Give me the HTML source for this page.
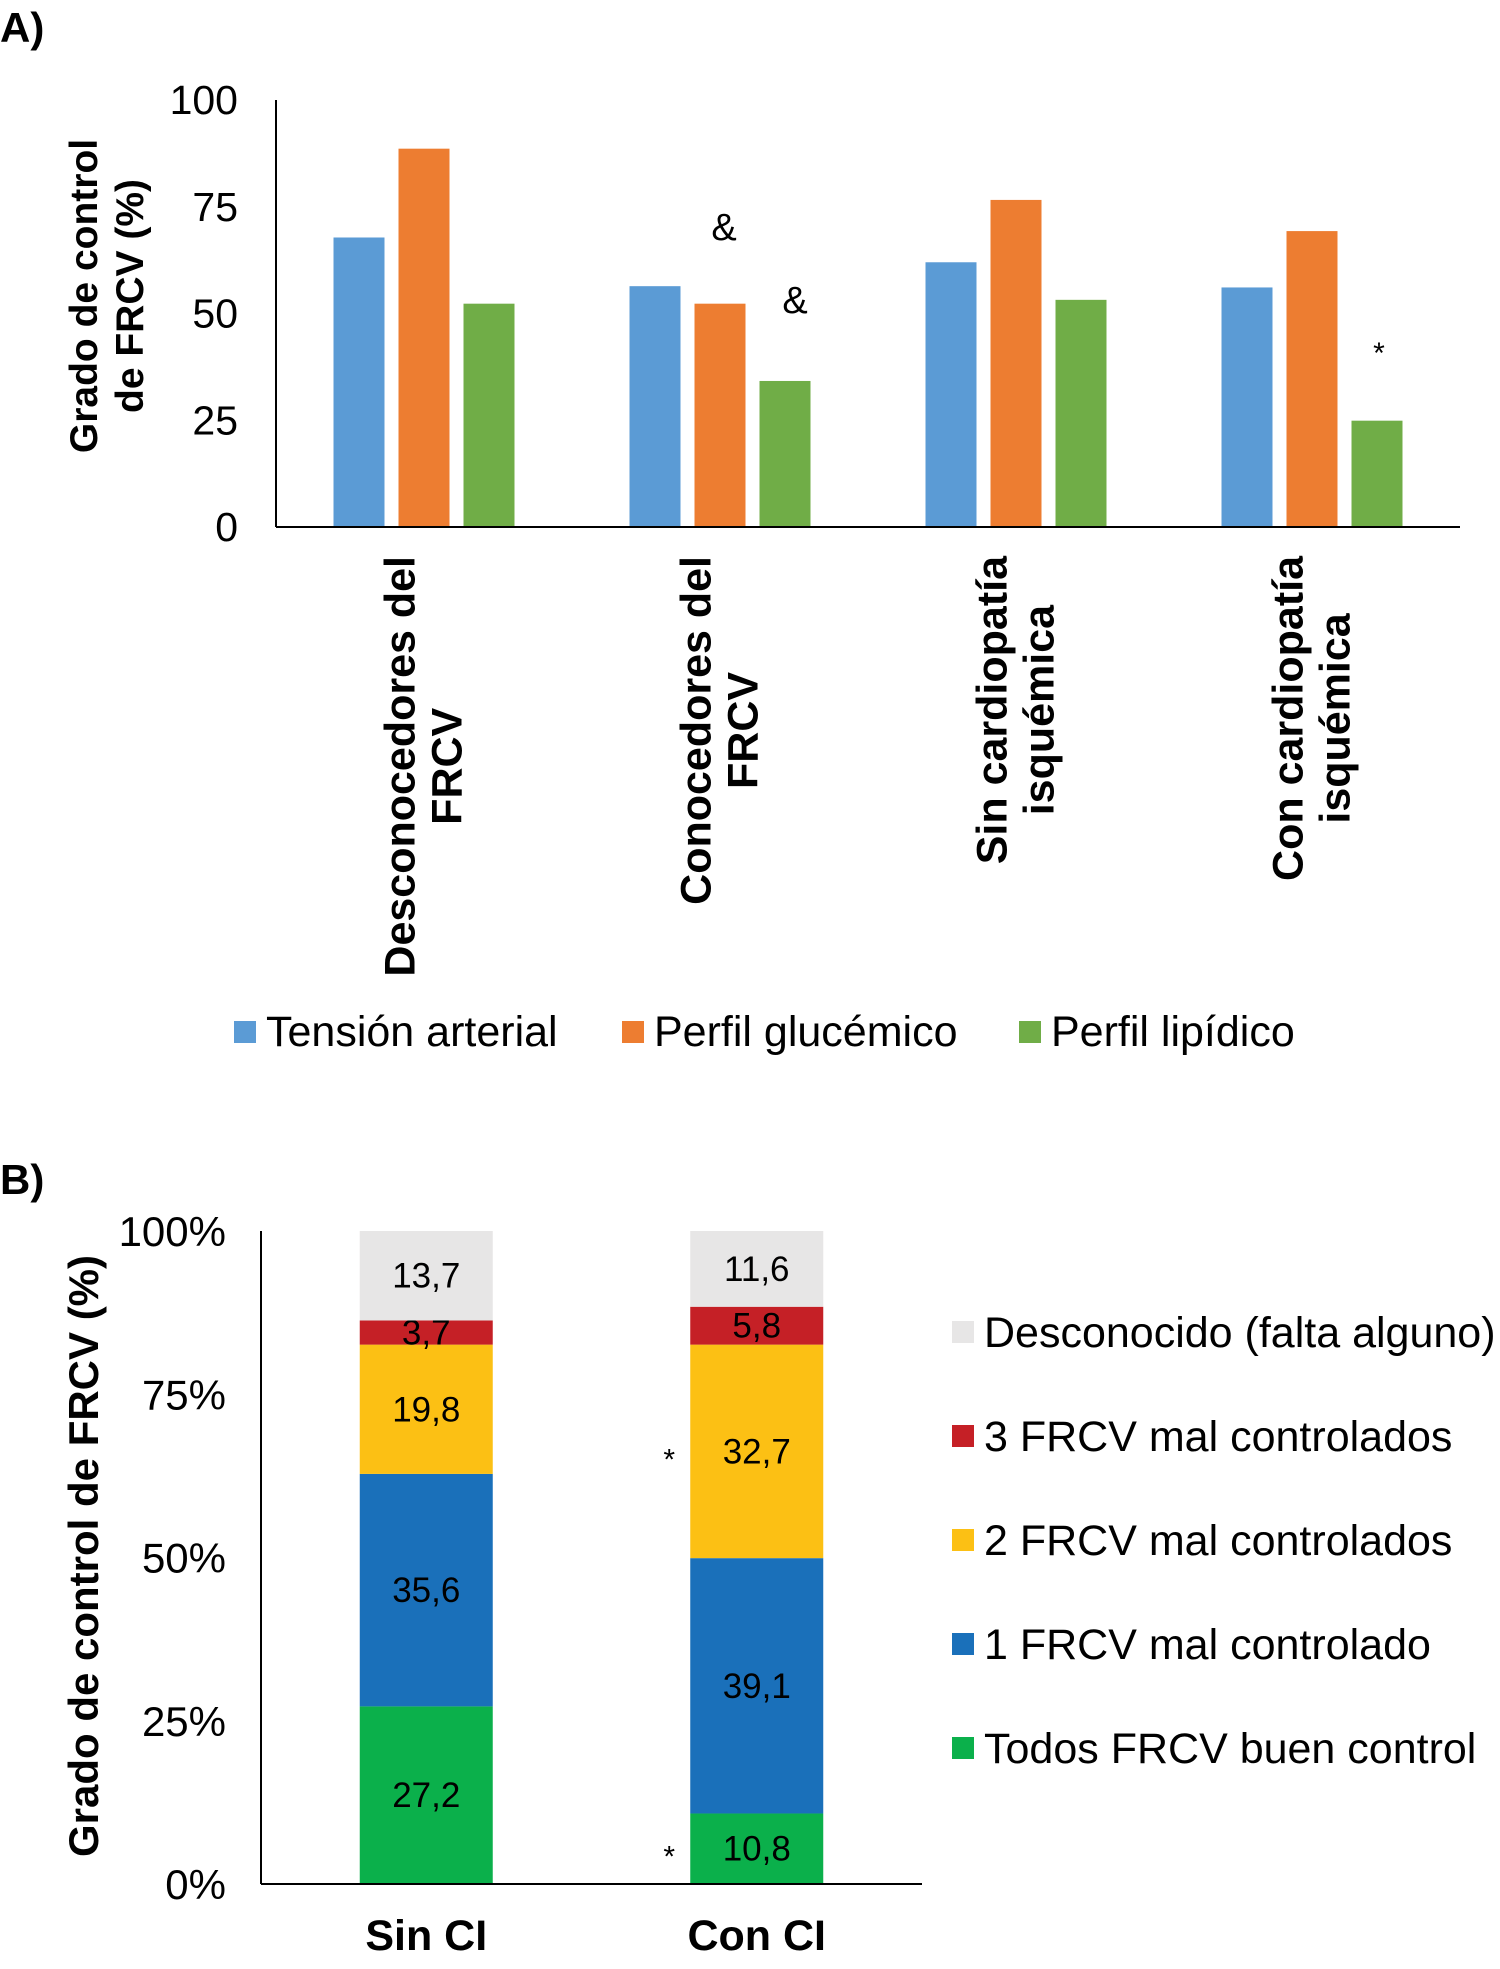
<!DOCTYPE html>
<html><head><meta charset="utf-8"><style>
html,body{margin:0;padding:0;background:#fff;}
svg{display:block;font-family:"Liberation Sans",Arial,sans-serif;}
</style></head><body>
<svg id="svg" width="1500" height="1969" viewBox="0 0 1500 1969" xmlns="http://www.w3.org/2000/svg">
<text x="0" y="42" font-size="42" font-weight="bold">A)</text>
<text x="0" y="1194" font-size="42" font-weight="bold">B)</text>
<g id="chartA"></g>
<g id="chartB"></g>
</svg>
<script>
// ---- Chart A data ----
const catsA = [["Desconocedores del","FRCV"],["Conocedores del","FRCV"],["Sin cardiopatía","isquémica"],["Con cardiopatía","isquémica"]];
const seriesNamesA = ["Tensión arterial","Perfil glucémico","Perfil lipídico"];
const tension = [67.8, 56.4, 62.0, 56.1];
const glucemico = [88.6, 52.3, 76.6, 69.3];
const lipidico = [52.3, 34.2, 53.2, 24.9];
const ticksA = [0,25,50,75,100];
// ---- Chart B data ----
const catsB = ["Sin CI","Con CI"];
const seriesNamesB = ["Todos FRCV buen control","1 FRCV mal controlado","2 FRCV mal controlados","3 FRCV mal controlados","Desconocido (falta alguno)"];
const buenControl = [27.2, 10.8];
const mal1 = [35.6, 39.1];
const mal2 = [19.8, 32.7];
const mal3 = [3.7, 5.8];
const desconocido = [13.7, 11.6];
const labelsB = [["27,2","10,8"],["35,6","39,1"],["19,8","32,7"],["3,7","5,8"],["13,7","11,6"]];
const ticksB = ["0%","25%","50%","75%","100%"];

const NS="http://www.w3.org/2000/svg";
function mk(parent,tag,attrs,text){const e=document.createElementNS(NS,tag);for(const k in attrs)e.setAttribute(k,attrs[k]);if(text!==undefined)e.textContent=text;parent.appendChild(e);return e;}

// ===== Chart A =====
(function(){
const g=document.getElementById('chartA');
const x0=276,x1=1460,y0=527,yTop=100;
const yA=v=>y0-(v/100)*(y0-yTop);
const band=(x1-x0)/catsA.length;
const colors=["#5B9BD5","#ED7D31","#70AD47"];
const data=[tension,glucemico,lipidico];
const bw=51,step=65;
data.forEach((s,si)=>{s.forEach((v,ci)=>{
  const cx=x0+band*(ci+0.5);
  const bx=cx-step-bw/2+si*step;
  const r=mk(g,'rect',{x:bx,y:yA(v),width:bw,height:y0-yA(v),fill:colors[si]});
  
  
});});
const ax=mk(g,'line',{x1:x0,y1:yTop,x2:x0,y2:y0,stroke:'#000','stroke-width':2});

const bx=mk(g,'line',{x1:x0,y1:y0,x2:x1,y2:y0,stroke:'#000','stroke-width':2});

ticksA.forEach(t=>{const e=mk(g,'text',{x:238,y:yA(t)+14,'font-size':41,'text-anchor':'end'},String(t));
  });
const yt=mk(g,'text',{transform:'translate(97,296) rotate(-90)','font-size':39,'font-weight':'bold','text-anchor':'middle'});

mk(yt,'tspan',{x:0,y:0},'Grado de control');
mk(yt,'tspan',{x:0,y:46},'de FRCV (%)');
catsA.forEach((lines,ci)=>{
  const cx=x0+band*(ci+0.5);
  const grp=mk(g,'g',{});
  
  const els=lines.map((l,li)=>mk(grp,'text',{'font-size':43,'font-weight':'bold','text-anchor':'middle'},l));
  let w=Math.max(...els.map(e=>e.getComputedTextLength()));
  const cy=556+w/2;
  els.forEach((e,li)=>{const lx=cx+14+(li-(els.length-1)/2)*47;e.setAttribute('transform','translate('+lx+','+cy+') rotate(-90)');});
});
const ann=[["&",724,240,38],["&",795,313,38],["*",1379,363,30]];
ann.forEach(a=>{const e=mk(g,'text',{x:a[1],y:a[2],'font-size':a[3],'text-anchor':'middle'},a[0]);
  });
const lx=[234,622,1019];
seriesNamesA.forEach((n,i)=>{
  const r=mk(g,'rect',{x:lx[i],y:1021,width:22,height:22,fill:colors[i]});
  
  const t=mk(g,'text',{x:lx[i]+32,y:1046,'font-size':43},n);
  
});
})();

// ===== Chart B =====
(function(){
const g=document.getElementById('chartB');
const x0=261,x1=922,y0=1884,yTop=1231;
const yB=v=>y0-(v/100)*(y0-yTop);
const band=(x1-x0)/catsB.length;
const colors=["#0BB04B","#1A70BA","#FCC014","#C52026","#E7E6E6"];
const data=[buenControl,mal1,mal2,mal3,desconocido];
const bw=133;
catsB.forEach((c,ci)=>{
  const cx=x0+band*(ci+0.5);
  let acc=0;
  data.forEach((s,si)=>{
    const v=s[ci];
    const yt=yB(acc+v),yb=yB(acc);
    const r=mk(g,'rect',{x:cx-bw/2,y:yt,width:bw,height:yb-yt,fill:colors[si]});
    
    
    const t=mk(g,'text',{x:cx,y:(yt+yb)/2+12,'font-size':35,'text-anchor':'middle'},labelsB[si][ci]);
    
    acc+=v;
  });
  const xl=mk(g,'text',{x:cx,y:1950,'font-size':43,'font-weight':'bold','text-anchor':'middle'},c);
  
});
const ax=mk(g,'line',{x1:x0,y1:yTop,x2:x0,y2:y0,stroke:'#000','stroke-width':2});

const bx=mk(g,'line',{x1:x0,y1:y0,x2:x1,y2:y0,stroke:'#000','stroke-width':2});

ticksB.forEach((t,i)=>{const e=mk(g,'text',{x:226,y:yB(i*25)+15,'font-size':42,'text-anchor':'end'},t);
  });
const yt=mk(g,'text',{transform:'translate(98,1556) rotate(-90)','font-size':42,'font-weight':'bold','text-anchor':'middle'},'Grado de control de FRCV (%)');

const cx2=x0+band*1.5;
[[mal2,buenControl.map((v,i)=>v+mal1[i]),],[buenControl,[0,0]]].forEach((p)=>{
  const base=p[1][1], v=p[0][1];
  const e=mk(g,'text',{x:cx2-bw/2-21,y:yB(base+v/2)+18,'font-size':30,'text-anchor':'middle'},'*');
  
});
const rows=[1332,1436,1540,1644,1748];
for(let k=0;k<5;k++){
  const si=4-k;
  const r=mk(g,'rect',{x:952,y:rows[k]-11,width:22,height:22,fill:colors[si]});
  
  const t=mk(g,'text',{x:984,y:rows[k]+15,'font-size':43},seriesNamesB[si]);
  
}
})();
</script>
</body></html>
